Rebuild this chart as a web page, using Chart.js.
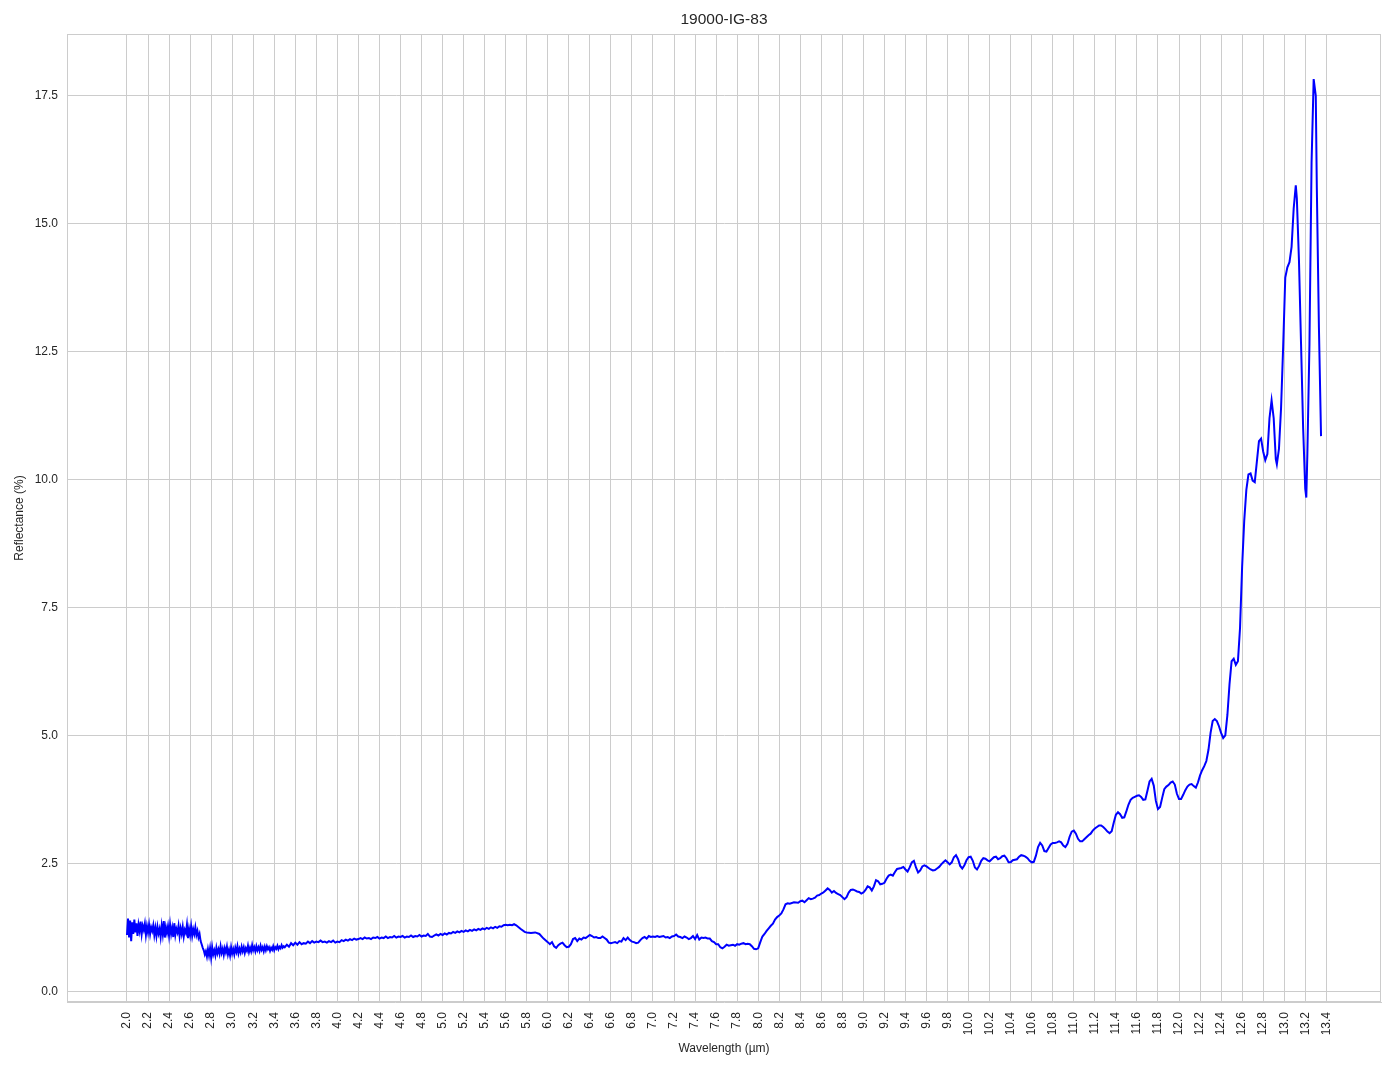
<!DOCTYPE html>
<html>
<head>
<meta charset="utf-8">
<title>19000-IG-83</title>
<script src="https://cdn.jsdelivr.net/npm/chart.js@4.4.0/dist/chart.umd.min.js"></script>
<style>
  html, body { margin: 0; padding: 0; background: #ffffff; }
  #wrap { width: 1394px; height: 1069px; }
</style>
</head>
<body>
<div id="wrap"><canvas id="spectrum"></canvas></div>
<script>
// spectrum, [wavelength µm, reflectance %]
// noisy start, up to the drop near 2.7 µm
const segStart = [
  [2.00,1.10],[2.01,1.42],[2.02,1.05],[2.03,1.38],[2.04,0.98],[2.05,1.35],[2.06,1.12],[2.07,1.40],[2.08,1.15],[2.09,1.33],
  [2.10,1.08],[2.11,1.30],[2.12,1.18],[2.13,1.36],[2.14,1.12],[2.15,1.28],[2.16,1.20],[2.17,1.32],[2.18,1.10],[2.19,1.27],
  [2.20,1.15],[2.21,1.30],[2.22,1.12],[2.23,1.25],[2.24,1.18],[2.25,1.29],[2.26,1.10],[2.27,1.24],[2.28,1.08],[2.29,1.26],
  [2.30,1.13],[2.31,1.22],[2.32,1.06],[2.33,1.28],[2.34,1.12],[2.35,1.37],[2.36,1.05],[2.37,1.25],[2.38,1.14],[2.39,1.27],
  [2.40,1.09],[2.41,1.30],[2.42,1.12],[2.43,1.24],[2.44,1.06],[2.45,1.33],[2.46,1.10],[2.47,1.22],[2.48,1.15],[2.49,1.28],
  [2.50,1.08],[2.51,1.23],[2.52,1.12],[2.53,1.26],[2.54,1.07],[2.55,1.20],[2.56,1.14],[2.57,1.30],[2.58,1.04],[2.59,1.22],
  [2.60,1.10],[2.61,1.27],[2.62,1.08],[2.63,1.21],[2.64,1.12],[2.65,1.25],[2.66,1.10],[2.67,1.18],[2.68,1.05],[2.69,1.12],
  [2.70,0.98],[2.71,0.92],[2.72,0.85],[2.73,0.80],[2.74,0.72],[2.75,0.78],[2.76,0.68],[2.77,0.82],[2.78,0.70],[2.79,0.84]
];

// low plateau 2.8 - 3.5 µm
const segLow = [
  [2.80,0.66],[2.81,0.86],[2.82,0.72],[2.83,0.80],[2.84,0.70],[2.85,0.85],[2.86,0.74],[2.87,0.82],[2.88,0.73],[2.89,0.88],
  [2.90,0.75],[2.91,0.83],[2.92,0.71],[2.93,0.84],[2.94,0.76],[2.95,0.87],[2.96,0.72],[2.97,0.81],[2.98,0.70],[2.99,0.86],
  [3.00,0.74],[3.01,0.82],[3.02,0.72],[3.03,0.85],[3.04,0.77],[3.05,0.88],[3.06,0.74],[3.07,0.83],[3.08,0.76],[3.09,0.87],
  [3.10,0.78],[3.11,0.86],[3.12,0.75],[3.13,0.84],[3.14,0.79],[3.15,0.89],[3.16,0.77],[3.17,0.85],[3.18,0.78],[3.19,0.90],
  [3.20,0.80],[3.21,0.86],[3.22,0.78],[3.23,0.88],[3.24,0.80],[3.25,0.86],[3.26,0.79],[3.27,0.89],[3.28,0.81],[3.29,0.86],
  [3.30,0.78],[3.31,0.87],[3.32,0.80],[3.33,0.88],[3.34,0.82],[3.35,0.86],[3.36,0.79],[3.37,0.85],[3.38,0.81],[3.39,0.88],
  [3.40,0.80],[3.41,0.86],[3.42,0.83],[3.43,0.89],[3.44,0.82],[3.45,0.87],[3.46,0.84],[3.47,0.90],[3.48,0.85],[3.49,0.88]
];

// slow rise 3.5 - 5.7 µm
const segRise = [
  [3.50,0.86],[3.52,0.91],[3.54,0.87],[3.56,0.94],[3.58,0.90],[3.60,0.95],[3.62,0.91],[3.64,0.96],[3.66,0.92],[3.68,0.94],
  [3.70,0.93],[3.72,0.97],[3.74,0.94],[3.76,0.98],[3.78,0.95],[3.80,0.97],[3.82,0.96],[3.84,0.99],[3.86,0.96],[3.88,0.97],
  [3.90,0.95],[3.92,0.98],[3.94,0.96],[3.96,0.99],[3.98,0.95],[4.00,0.97],[4.02,0.96],[4.04,1.00],[4.06,0.98],[4.08,1.01],
  [4.10,0.99],[4.12,1.02],[4.14,1.00],[4.16,1.03],[4.18,1.01],[4.20,1.02],[4.22,1.04],[4.24,1.02],[4.26,1.05],[4.28,1.03],
  [4.30,1.04],[4.32,1.02],[4.34,1.05],[4.36,1.04],[4.38,1.06],[4.40,1.03],[4.42,1.05],[4.44,1.04],[4.46,1.07],[4.48,1.04],
  [4.50,1.06],[4.52,1.05],[4.54,1.08],[4.56,1.05],[4.58,1.07],[4.60,1.06],[4.62,1.08],[4.64,1.05],[4.66,1.07],[4.68,1.06],
  [4.70,1.09],[4.72,1.06],[4.74,1.08],[4.76,1.07],[4.78,1.10],[4.80,1.07],[4.82,1.09],[4.84,1.08],[4.86,1.12],[4.88,1.07],
  [4.90,1.06],[4.92,1.09],[4.94,1.11],[4.96,1.09],[4.98,1.12],[5.00,1.10],[5.02,1.13],[5.04,1.11],[5.06,1.14],[5.08,1.13],
  [5.10,1.16],[5.12,1.14],[5.14,1.17],[5.16,1.15],[5.18,1.18],[5.20,1.16],[5.22,1.19],[5.24,1.17],[5.26,1.20],[5.28,1.18],
  [5.30,1.21],[5.32,1.19],[5.34,1.22],[5.36,1.20],[5.38,1.23],[5.40,1.21],[5.42,1.24],[5.44,1.22],[5.46,1.25],[5.48,1.23],
  [5.50,1.26],[5.52,1.24],[5.54,1.27],[5.56,1.26],[5.58,1.29],[5.60,1.30],[5.62,1.29],[5.64,1.30],[5.66,1.29],[5.68,1.31]
];

// flat wavy part 5.7 - 8.0 µm
const segFlat = [
  [5.70,1.29],[5.74,1.22],[5.78,1.16],[5.80,1.15],[5.84,1.14],[5.88,1.15],[5.92,1.12],[5.96,1.03],[6.00,0.96],[6.02,0.92],
  [6.04,0.96],[6.06,0.88],[6.08,0.85],[6.10,0.90],[6.12,0.93],[6.14,0.95],[6.16,0.90],[6.18,0.86],[6.20,0.87],[6.22,0.92],
  [6.24,1.02],[6.26,1.04],[6.28,0.98],[6.30,1.03],[6.32,1.01],[6.34,1.05],[6.36,1.04],[6.38,1.07],[6.40,1.10],[6.42,1.08],
  [6.44,1.05],[6.46,1.06],[6.48,1.04],[6.50,1.04],[6.52,1.07],[6.54,1.04],[6.56,1.01],[6.58,0.95],[6.60,0.94],[6.62,0.95],
  [6.64,0.96],[6.66,0.94],[6.68,0.98],[6.70,0.97],[6.72,1.04],[6.74,1.00],[6.76,1.05],[6.78,1.00],[6.80,0.97],[6.82,0.96],
  [6.84,0.94],[6.86,0.95],[6.88,1.00],[6.90,1.04],[6.92,1.06],[6.94,1.03],[6.96,1.08],[6.98,1.06],[7.00,1.07],[7.02,1.06],
  [7.04,1.08],[7.06,1.06],[7.08,1.07],[7.10,1.08],[7.12,1.05],[7.14,1.06],[7.16,1.04],[7.18,1.07],[7.20,1.08],[7.22,1.11],
  [7.24,1.07],[7.26,1.06],[7.28,1.04],[7.30,1.07],[7.32,1.05],[7.34,1.02],[7.36,1.04],[7.38,1.08],[7.40,1.02],[7.42,1.10],
  [7.44,1.01],[7.46,1.05],[7.48,1.04],[7.50,1.05],[7.52,1.03],[7.54,1.03],[7.56,0.98],[7.58,0.96],[7.60,0.92],[7.62,0.92],
  [7.64,0.86],[7.66,0.84],[7.68,0.87],[7.70,0.91],[7.72,0.89],[7.74,0.90],[7.76,0.91],[7.78,0.89],[7.80,0.92],[7.82,0.91],
  [7.84,0.93],[7.86,0.94],[7.88,0.92],[7.90,0.93],[7.92,0.92],[7.94,0.88],[7.96,0.83],[7.98,0.82]
];

// step up and climb 8.0 - 10.5 µm
const segClimb = [
  [8.00,0.84],[8.02,0.96],[8.04,1.07],[8.06,1.12],[8.08,1.18],[8.10,1.23],[8.12,1.28],[8.14,1.32],[8.16,1.40],[8.18,1.45],
  [8.20,1.48],[8.22,1.52],[8.24,1.60],[8.26,1.70],[8.28,1.72],[8.30,1.71],[8.34,1.74],[8.38,1.73],[8.40,1.76],[8.42,1.77],
  [8.44,1.74],[8.46,1.78],[8.48,1.82],[8.50,1.80],[8.52,1.81],[8.54,1.83],[8.56,1.87],[8.58,1.88],[8.60,1.91],[8.62,1.93],
  [8.64,1.97],[8.66,2.01],[8.68,1.98],[8.70,1.93],[8.72,1.96],[8.74,1.92],[8.76,1.90],[8.78,1.88],[8.80,1.84],[8.82,1.80],
  [8.84,1.84],[8.86,1.93],[8.88,1.98],[8.90,1.99],[8.92,1.97],[8.94,1.95],[8.96,1.94],[8.98,1.91],[9.00,1.93],[9.02,1.98],
  [9.04,2.05],[9.06,2.03],[9.08,1.97],[9.10,2.05],[9.12,2.17],[9.14,2.15],[9.16,2.09],[9.18,2.10],[9.20,2.12],[9.22,2.20],
  [9.24,2.26],[9.26,2.28],[9.28,2.26],[9.30,2.33],[9.32,2.39],[9.34,2.40],[9.36,2.41],[9.38,2.43],[9.40,2.38],[9.42,2.34],
  [9.44,2.42],[9.46,2.52],[9.48,2.55],[9.50,2.42],[9.52,2.32],[9.54,2.36],[9.56,2.44],[9.58,2.46],[9.60,2.44],[9.62,2.41],
  [9.64,2.38],[9.66,2.36],[9.68,2.37],[9.70,2.40],[9.72,2.43],[9.74,2.48],[9.76,2.52],[9.78,2.56],[9.80,2.52],[9.82,2.48],
  [9.84,2.52],[9.86,2.62],[9.88,2.66],[9.90,2.58],[9.92,2.45],[9.94,2.40],[9.96,2.46],[9.98,2.56],[10.00,2.62],[10.02,2.63],
  [10.04,2.55],[10.06,2.42],[10.08,2.38],[10.10,2.45],[10.12,2.55],[10.14,2.60],[10.16,2.59],[10.18,2.56],[10.20,2.54],[10.22,2.58],
  [10.24,2.62],[10.26,2.63],[10.28,2.58],[10.30,2.60],[10.32,2.64],[10.34,2.65],[10.36,2.60],[10.38,2.52],[10.40,2.52],[10.42,2.56],
  [10.44,2.57],[10.46,2.58],[10.48,2.63]
];

// steeper rise 10.5 - 12.2 µm
const segUpper = [
  [10.50,2.66],[10.52,2.65],[10.54,2.63],[10.56,2.60],[10.58,2.55],[10.60,2.52],[10.62,2.53],[10.64,2.65],[10.66,2.82],[10.68,2.90],
  [10.70,2.85],[10.72,2.74],[10.74,2.73],[10.76,2.80],[10.78,2.87],[10.80,2.90],[10.82,2.90],[10.84,2.91],[10.86,2.93],[10.88,2.91],
  [10.90,2.85],[10.92,2.82],[10.94,2.88],[10.96,3.02],[10.98,3.12],[11.00,3.14],[11.02,3.08],[11.04,2.98],[11.06,2.93],[11.08,2.93],
  [11.10,2.97],[11.12,3.01],[11.14,3.05],[11.16,3.08],[11.18,3.14],[11.20,3.18],[11.22,3.21],[11.24,3.24],[11.26,3.24],[11.28,3.21],
  [11.30,3.17],[11.32,3.12],[11.34,3.09],[11.36,3.13],[11.38,3.30],[11.40,3.45],[11.42,3.50],[11.44,3.46],[11.46,3.39],[11.48,3.40],
  [11.50,3.52],[11.52,3.65],[11.54,3.74],[11.56,3.78],[11.58,3.80],[11.60,3.82],[11.62,3.83],[11.64,3.80],[11.66,3.74],[11.68,3.75],
  [11.70,3.92],[11.72,4.10],[11.74,4.15],[11.76,4.02],[11.78,3.72],[11.80,3.56],[11.82,3.60],[11.84,3.78],[11.86,3.95],[11.88,4.00],
  [11.90,4.03],[11.92,4.08],[11.94,4.10],[11.96,4.04],[11.98,3.86],[12.00,3.76],[12.02,3.76],[12.04,3.84],[12.06,3.93],[12.08,4.00],
  [12.10,4.04],[12.12,4.05],[12.14,4.01],[12.16,3.98],[12.18,4.08]
];

// oscillating tail 12.2 - 13.35 µm
const segTail = [
  [12.20,4.22],[12.22,4.32],[12.24,4.40],[12.26,4.50],[12.28,4.72],[12.30,5.05],[12.32,5.28],[12.34,5.32],[12.36,5.28],[12.38,5.18],
  [12.40,5.05],[12.42,4.95],[12.44,5.00],[12.46,5.40],[12.48,6.00],[12.50,6.45],[12.52,6.50],[12.54,6.38],[12.56,6.45],[12.58,7.10],
  [12.60,8.30],[12.62,9.20],[12.64,9.80],[12.66,10.10],[12.68,10.12],[12.70,9.98],[12.72,9.95],[12.74,10.35],[12.76,10.75],[12.78,10.80],
  [12.80,10.55],[12.82,10.38],[12.84,10.50],[12.86,11.20],[12.88,11.55],[12.90,11.20],[12.92,10.40],[12.93,10.30],[12.95,10.60],[12.97,11.40],
  [12.99,12.60],[13.01,13.95],[13.03,14.15],[13.05,14.25],[13.07,14.55],[13.09,15.30],[13.11,15.75],[13.12,15.50],[13.14,14.30],[13.16,12.65],
  [13.18,11.00],[13.20,9.82],[13.21,9.65],[13.22,10.50],[13.24,12.65],[13.26,16.20],[13.28,17.83],[13.30,17.50],[13.31,15.70],[13.33,12.97],
  [13.35,10.85]
];

// tick positions
const xTicks = [2.0,2.2,2.4,2.6,2.8,3.0,3.2,3.4,3.6,3.8,4.0,4.2,4.4,4.6,4.8,5.0,5.2,5.4,5.6,5.8,
                6.0,6.2,6.4,6.6,6.8,7.0,7.2,7.4,7.6,7.8,8.0,8.2,8.4,8.6,8.8,9.0,9.2,9.4,9.6,9.8,
                10.0,10.2,10.4,10.6,10.8,11.0,11.2,11.4,11.6,11.8,12.0,12.2,12.4,12.6,12.8,13.0,13.2,13.4];
const yTicks = [0, 2.5, 5.0, 7.5, 10.0, 12.5, 15.0, 17.5];

const chartTitle = '19000-IG-83';

const allPoints = segStart.concat(segLow, segRise, segFlat, segClimb, segUpper, segTail)
  .map(p => ({ x: p[0], y: p[1] }));

const textColor = '#262626';
const gridColor = '#cccccc';
const fontFamily = "'Liberation Sans', Arial, sans-serif";

// frame around the plot + title centred over the axes (like matplotlib)
const frameAndTitle = {
  id: 'frameAndTitle',
  afterDraw(chart) {
    const a = chart.chartArea;
    const ctx = chart.ctx;
    ctx.save();
    ctx.strokeStyle = gridColor;
    ctx.lineWidth = 1;
    ctx.strokeRect(a.left + 0.5, a.top + 0.5, a.right - a.left - 1, a.bottom - a.top - 1);
    ctx.fillStyle = textColor;
    ctx.font = '15.5px ' + fontFamily;
    ctx.textAlign = 'center';
    ctx.textBaseline = 'middle';
    ctx.fillText(chartTitle, (a.left + a.right) / 2, a.top - 14);
    ctx.restore();
  }
};

Chart.defaults.font.family = fontFamily;
Chart.defaults.color = textColor;

let spectrum_ctx = document.getElementById('spectrum');

let spectrum_chart = new Chart(spectrum_ctx, {
  type: 'line',
  data: {
    datasets: [{
      data: allPoints,
      borderColor: '#0000ff',
      borderWidth: 2,
      pointRadius: 0,
      tension: 0,
      fill: false
    }]
  },
  options: {
    responsive: true,
    maintainAspectRatio: false,
    animation: false,
    layout: { padding: { left: 0, right: 13, top: 34, bottom: 0 } },
    plugins: {
      legend: { display: false },
      tooltip: { enabled: false },
      title: { display: false }
    },
    scales: {
      x: {
        type: 'linear',
        min: 1.43,
        max: 13.92,
        afterBuildTicks(scale) {
          scale.ticks = xTicks.map(v => ({ value: v }));
        },
        afterFit(scale) { scale.height = 67; },
        ticks: {
          autoSkip: false,
          minRotation: 90,
          maxRotation: 90,
          padding: 10,
          color: textColor,
          font: { size: 12 },
          callback: v => Number(v).toFixed(1)
        },
        grid: { color: gridColor, lineWidth: 1, drawTicks: false },
        border: { display: true, color: gridColor },
        title: {
          display: true,
          text: 'Wavelength (µm)',
          color: textColor,
          font: { size: 12 },
          padding: { top: 0, bottom: 13 }
        }
      },
      y: {
        min: -0.21,
        max: 18.71,
        afterBuildTicks(scale) {
          scale.ticks = yTicks.map(v => ({ value: v }));
        },
        afterFit(scale) { scale.width = 67; },
        ticks: {
          padding: 9,
          color: textColor,
          font: { size: 12 },
          callback: v => Number(v).toFixed(1)
        },
        grid: { color: gridColor, lineWidth: 1, drawTicks: false },
        border: { display: true, color: gridColor },
        title: {
          display: true,
          text: 'Reflectance (%)',
          color: textColor,
          font: { size: 12 },
          padding: { top: 12, bottom: 0 }
        }
      }
    }
  },
  plugins: [frameAndTitle]
});
</script>
</body>
</html>
